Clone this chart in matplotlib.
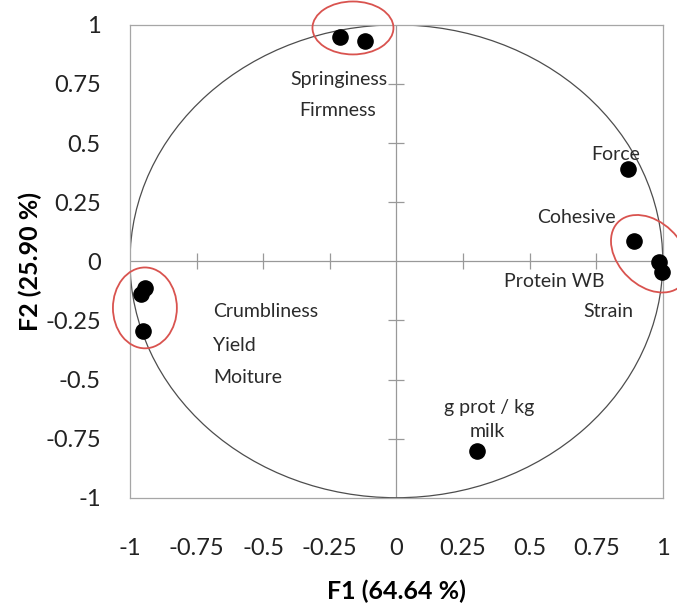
import numpy as np
import matplotlib.pyplot as plt
from matplotlib.patches import Circle, Ellipse

plt.rcParams['font.family'] = ['Lato', 'DejaVu Sans']

# correlations of each variable with F1 / F2
f1 = [-0.212, -0.118, 0.870, 0.892, 0.985, 0.997, -0.944, -0.959, -0.951, 0.301]
f2 = [0.950, 0.932, 0.390, 0.087, -0.003, -0.046, -0.112, -0.137, -0.294, -0.801]

# variable names and where they are written
labels = ['Springiness', 'Firmness', 'Force', 'Cohesive', 'Protein WB', 'Strain',
          'Crumbliness', 'Yield', 'Moiture', 'g prot / kg', 'milk']
label_x = [-0.216, -0.220, 0.824, 0.677, 0.594, 0.794, -0.689, -0.689, -0.689, 0.347, 0.343]
label_y = [0.767, 0.636, 0.450, 0.184, -0.087, -0.214, -0.214, -0.357, -0.492, -0.620, -0.721]
label_ha = ['center'] * 6 + ['left'] * 3 + ['center'] * 2

# groups circled in red: centre x, centre y, width, height, angle
groups_cx = [-0.163, 0.951, -0.944]
groups_cy = [0.987, 0.032, -0.197]
groups_w = [0.304, 0.36, 0.240]
groups_h = [0.224, 0.25, 0.342]
groups_ang = [0, -55, 0]

ticks = [-1, -0.75, -0.5, -0.25, 0, 0.25, 0.5, 0.75, 1]
tick_labels = ['-1', '-0.75', '-0.5', '-0.25', '0', '0.25', '0.5', '0.75', '1']

fig = plt.figure(figsize=(6.77, 6.07), dpi=100)
ax = fig.add_axes([0.192, 0.180, 0.787, 0.779])
ax.set_xlim(-1, 1)
ax.set_ylim(-1, 1)

for s in ax.spines.values():
    s.set_color('#a6a6a6')
    s.set_linewidth(0.9)

ax.set_xticks(ticks)
ax.set_xticklabels(tick_labels)
ax.set_yticks(ticks)
ax.set_yticklabels(tick_labels)
ax.tick_params(axis='x', length=0, pad=29, labelsize=17, labelcolor='#222222')
ax.tick_params(axis='y', length=0, pad=21, labelsize=17, labelcolor='#222222')

# axes through the origin with their tick marks
ax.axhline(0, color='#999999', lw=0.9, zorder=1)
ax.axvline(0, color='#999999', lw=0.9, zorder=1)
inner = [t for t in ticks if t not in (-1, 0, 1)]
ax.plot(inner, [0] * len(inner), ls='none', marker='|', ms=12, mew=0.9, color='#999999', zorder=1)
ax.plot([0] * len(inner), inner, ls='none', marker='_', ms=12, mew=0.9, color='#999999', zorder=1)

ax.add_patch(Circle((0, 0), 1, fill=False, ec='#4d4d4d', lw=0.9, zorder=2))

ax.scatter(f1, f2, s=120, color='black', zorder=4, clip_on=False)

for t, x, y, ha in zip(labels, label_x, label_y, label_ha):
    ax.text(x, y, t, ha=ha, va='center', fontsize=14, color='#2b2b2b', zorder=3)

for cx, cy, w, h, a in zip(groups_cx, groups_cy, groups_w, groups_h, groups_ang):
    ax.add_patch(Ellipse((cx, cy), w, h, angle=a, fill=False, ec='#d9534f', lw=1.3,
                         zorder=5, clip_on=False))

ax.set_xlabel('F1 (64.64 %)', fontsize=18, fontweight='bold', labelpad=15)
ax.set_ylabel('F2 (25.90 %)', fontsize=18, fontweight='bold', labelpad=2)

fig.savefig('out.png', dpi=100)
